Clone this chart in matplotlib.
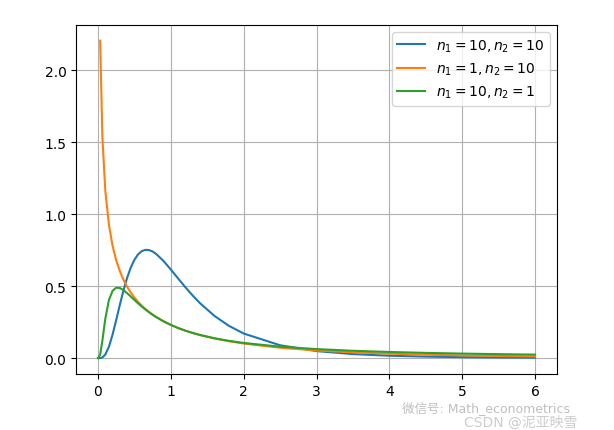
import numpy as np
import matplotlib.pyplot as plt

plt.rcParams['font.family'] = ['DejaVu Sans', 'Noto Sans CJK SC']

x = [0, 0.03, 0.06, 0.1, 0.15, 0.2, 0.25, 0.3, 0.35, 0.4, 0.45, 0.5, 0.55,
     0.6, 0.65, 0.7, 0.75, 0.8, 0.9, 1.0, 1.1, 1.2, 1.3, 1.4, 1.6, 1.8, 2.0,
     2.5, 3.0, 3.5, 4.0, 4.5, 5.0, 5.5, 6.0]

# n1=10, n2=10
f_10_10 = [0, 0.0004, 0.0046, 0.0243, 0.0788, 0.1628, 0.2642, 0.3702, 0.4701,
           0.5576, 0.6287, 0.6828, 0.7202, 0.7426, 0.7517, 0.7503, 0.7402,
           0.7227, 0.6742, 0.6152, 0.5530, 0.4918, 0.4344, 0.3817, 0.2925,
           0.2233, 0.1707, 0.0892, 0.0487, 0.0278, 0.0165, 0.0102, 0.0065,
           0.0043, 0.0029]

# n1=1, n2=10 (no value at x=0)
x_1_10 = x[1:]
f_1_10 = [2.204, 1.537, 1.165, 0.9257, 0.7802, 0.6794, 0.6038, 0.5443, 0.4957,
          0.4553, 0.4207, 0.3908, 0.3647, 0.3414, 0.3206, 0.3018, 0.2849,
          0.2553, 0.2304, 0.2090, 0.1905, 0.1743, 0.1600, 0.1361, 0.1168,
          0.1010, 0.0721, 0.0530, 0.0400, 0.0306, 0.0238, 0.0187, 0.0149,
          0.0120]

# n1=10, n2=1
f_10_1 = [0, 0.0235, 0.1201, 0.2719, 0.4032, 0.4674, 0.4888, 0.4867, 0.4718,
          0.4505, 0.4279, 0.4037, 0.3806, 0.3585, 0.3376, 0.3188, 0.3006,
          0.2845, 0.2553, 0.2305, 0.2088, 0.1906, 0.1746, 0.1607, 0.1377,
          0.1197, 0.1052, 0.0793, 0.0625, 0.0509, 0.0425, 0.0362, 0.0313,
          0.0274, 0.0242]

fig = plt.figure(figsize=(6.14, 4.31), dpi=100)
ax = fig.add_subplot(111)
fig.subplots_adjust(left=0.124, right=0.907, top=0.94, bottom=0.13)

ax.plot(x, f_10_10, label=r'$n_1=10,n_2=10$')
ax.plot(x_1_10, f_1_10, label=r'$n_1=1,n_2=10$')
ax.plot(x, f_10_1, label=r'$n_1=10,n_2=1$')
ax.grid(True)
ax.legend(loc='upper right')

# watermark
fig.text(0.655, 0.038, '微信号: Math_econometrics', color='#b4b4b4',
         fontsize=9, alpha=0.85, va='bottom')
fig.text(0.755, 0.003, 'CSDN @泥亚映雪', color='#c4c4c4', fontsize=10,
         alpha=0.85, va='bottom')

fig.savefig('out.png', dpi=100)
